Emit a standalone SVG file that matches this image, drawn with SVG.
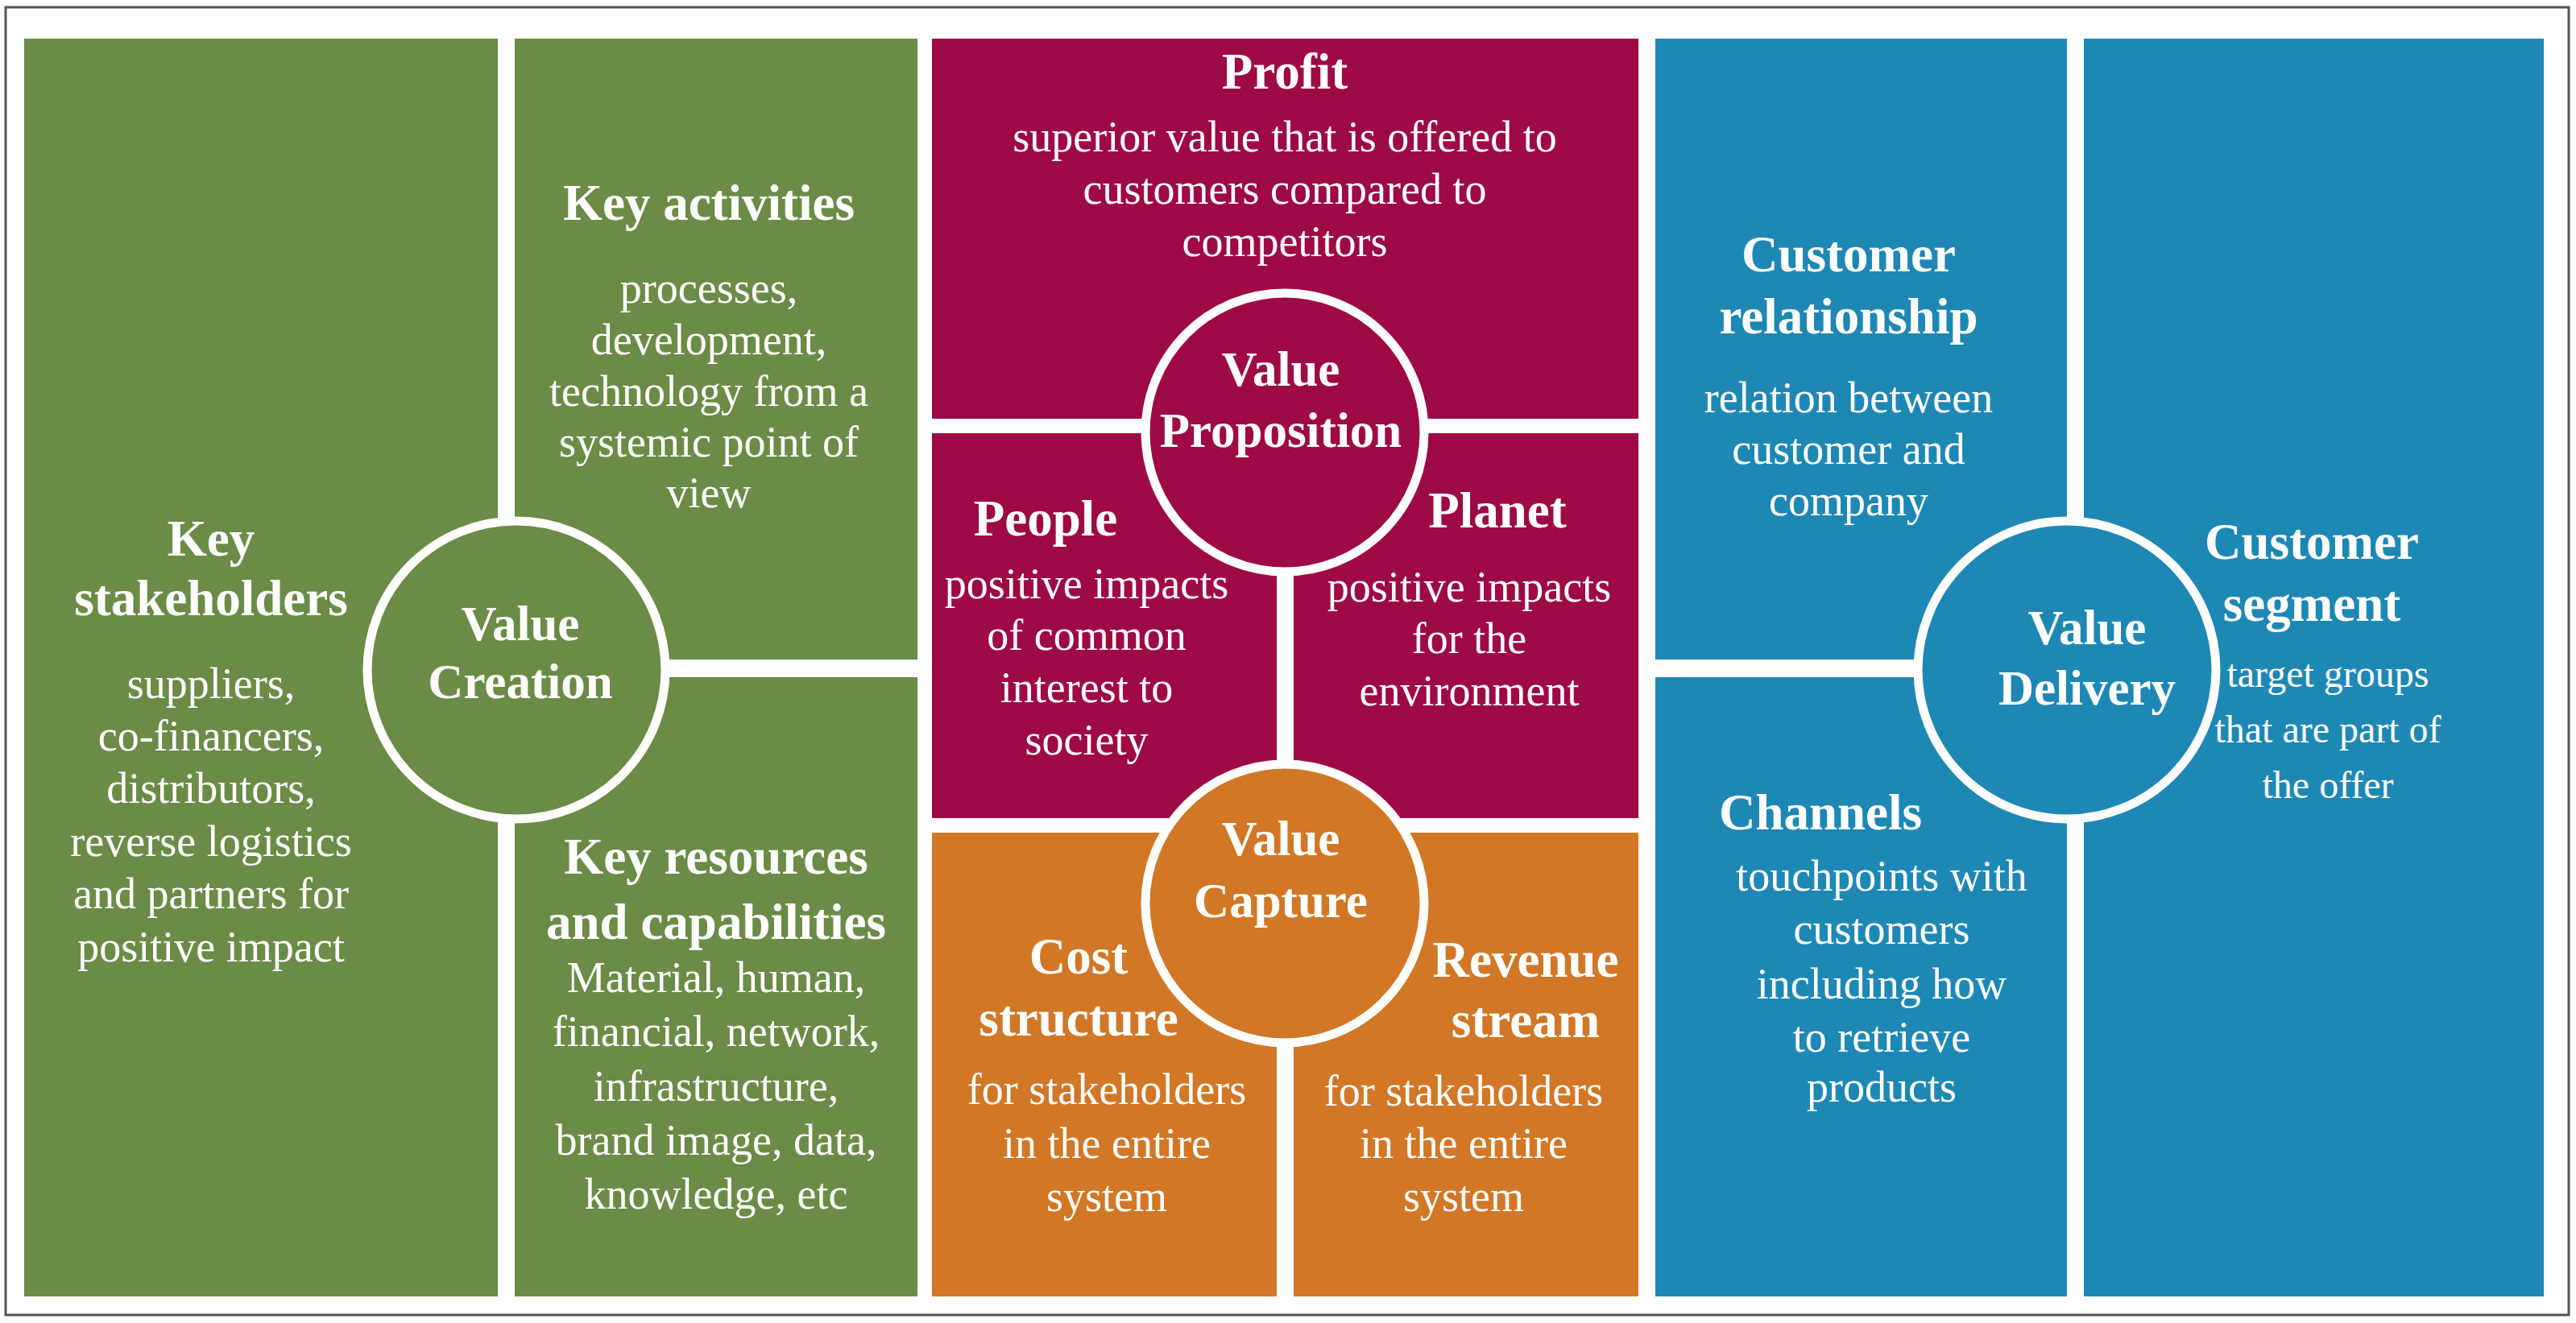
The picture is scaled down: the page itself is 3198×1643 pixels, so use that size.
<svg xmlns="http://www.w3.org/2000/svg" width="3198" height="1643" viewBox="0 0 3198 1643">
<style>
.t{font-family:"Liberation Serif",serif;font-weight:bold;font-size:63px;fill:#fff;text-anchor:middle}
.v{font-family:"Liberation Serif",serif;font-weight:bold;font-size:61px;fill:#fff;text-anchor:middle}
.b{font-family:"Liberation Serif",serif;font-size:54px;fill:#fff;text-anchor:middle}
.s{font-family:"Liberation Serif",serif;font-size:48px;fill:#fff;text-anchor:middle}
.g{fill:#6a8c47}.m{fill:#9e0a45}.o{fill:#d17726}.u{fill:#1e88b5}
.c{stroke:#fff;stroke-width:11}
</style>
<rect width="3198" height="1643" fill="#fff"/>
<rect x="7" y="9" width="3182" height="1624" fill="none" stroke="#555" stroke-width="3"/>
<g id="key-stakeholders"><rect class="g" x="30" y="48" width="588" height="1562"/>
<text class="t" x="262" y="690">Key</text><text class="t" x="262" y="764">stakeholders</text>
<text class="b" x="262" y="867">suppliers,</text><text class="b" x="262" y="932">co-financers,</text><text class="b" x="262" y="997">distributors,</text><text class="b" x="262" y="1063">reverse logistics</text><text class="b" x="262" y="1128">and partners for</text><text class="b" x="262" y="1194">positive impact</text></g>
<g id="key-activities"><rect class="g" x="639" y="48" width="500" height="771"/>
<text class="t" x="880" y="273">Key activities</text>
<text class="b" x="880" y="376">processes,</text><text class="b" x="880" y="440">development,</text><text class="b" x="880" y="504">technology from a</text><text class="b" x="880" y="567">systemic point of</text><text class="b" x="880" y="630">view</text></g>
<g id="key-resources"><rect class="g" x="639" y="841" width="500" height="769"/>
<text class="t" x="889" y="1085">Key resources</text><text class="t" x="889" y="1166">and capabilities</text>
<text class="b" x="889" y="1232">Material, human,</text><text class="b" x="889" y="1299">financial, network,</text><text class="b" x="889" y="1367">infrastructure,</text><text class="b" x="889" y="1434">brand image, data,</text><text class="b" x="889" y="1501">knowledge, etc</text></g>
<g id="profit"><rect class="m" x="1157" y="48" width="877" height="472"/>
<text class="t" x="1595" y="110">Profit</text>
<text class="b" x="1595" y="188">superior value that is offered to</text><text class="b" x="1595" y="253">customers compared to</text><text class="b" x="1595" y="318">competitors</text></g>
<g id="people"><rect class="m" x="1157" y="538" width="428" height="478"/>
<text class="t" x="1298" y="665">People</text>
<text class="b" x="1349" y="743">positive impacts</text><text class="b" x="1349" y="807">of common</text><text class="b" x="1349" y="872">interest to</text><text class="b" x="1349" y="937">society</text></g>
<g id="planet"><rect class="m" x="1606" y="538" width="428" height="478"/>
<text class="t" x="1859" y="655">Planet</text>
<text class="b" x="1824" y="747">positive impacts</text><text class="b" x="1824" y="811">for the</text><text class="b" x="1824" y="876">environment</text></g>
<g id="cost-structure"><rect class="o" x="1157" y="1034" width="428" height="576"/>
<text class="t" x="1339" y="1209">Cost</text><text class="t" x="1339" y="1286">structure</text>
<text class="b" x="1374" y="1371">for stakeholders</text><text class="b" x="1374" y="1438">in the entire</text><text class="b" x="1374" y="1504">system</text></g>
<g id="revenue-stream"><rect class="o" x="1606" y="1034" width="428" height="576"/>
<text class="t" x="1894" y="1213">Revenue</text><text class="t" x="1894" y="1288">stream</text>
<text class="b" x="1817" y="1373">for stakeholders</text><text class="b" x="1817" y="1438">in the entire</text><text class="b" x="1817" y="1504">system</text></g>
<g id="customer-relationship"><rect class="u" x="2055" y="48" width="511" height="771"/>
<text class="t" x="2295" y="337">Customer</text><text class="t" x="2295" y="414">relationship</text>
<text class="b" x="2295" y="512">relation between</text><text class="b" x="2295" y="576">customer and</text><text class="b" x="2295" y="640">company</text></g>
<g id="channels"><rect class="u" x="2055" y="841" width="511" height="769"/>
<text class="t" x="2260" y="1030">Channels</text>
<text class="b" x="2336" y="1106">touchpoints with</text><text class="b" x="2336" y="1172">customers</text><text class="b" x="2336" y="1240">including how</text><text class="b" x="2336" y="1306">to retrieve</text><text class="b" x="2336" y="1368">products</text></g>
<g id="customer-segment"><rect class="u" x="2587" y="48" width="571" height="1562"/>
<text class="t" x="2870" y="694">Customer</text><text class="t" x="2870" y="771">segment</text>
<text class="s" x="2890" y="853">target groups</text><text class="s" x="2890" y="922">that are part of</text><text class="s" x="2890" y="991">the offer</text></g>
<g id="connectors">
<line x1="618" y1="830" x2="1157" y2="830" stroke="#fff" stroke-width="22"/>
<line x1="2034" y1="830" x2="2587" y2="830" stroke="#fff" stroke-width="22"/>
</g>
<g id="value-creation"><circle class="g c" cx="641" cy="832" r="185"/>
<text class="v" x="646" y="795">Value</text><text class="v" x="646" y="867">Creation</text></g>
<g id="value-proposition"><circle class="m c" cx="1595" cy="537" r="173"/>
<text class="v" x="1590" y="479">Value</text><text class="v" x="1590" y="555">Proposition</text></g>
<g id="value-capture"><circle class="o c" cx="1595" cy="1122" r="173"/>
<text class="v" x="1590" y="1062">Value</text><text class="v" x="1590" y="1139">Capture</text></g>
<g id="value-delivery"><circle class="u c" cx="2566" cy="832" r="185"/>
<text class="v" x="2591" y="800">Value</text><text class="v" x="2591" y="875">Delivery</text></g>
</svg>
